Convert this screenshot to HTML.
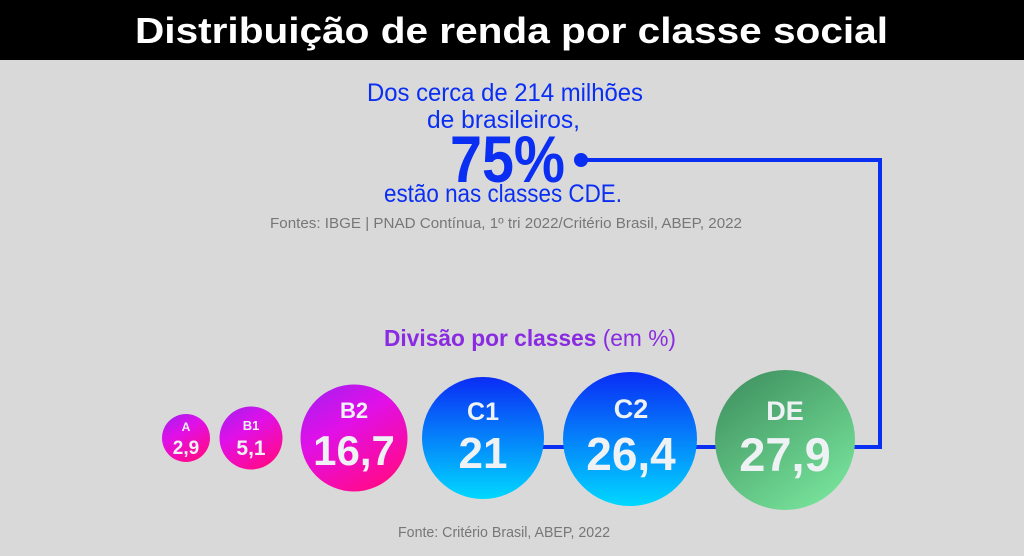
<!DOCTYPE html>
<html><head><meta charset="utf-8"><style>
html,body{margin:0;padding:0;width:1024px;height:556px;overflow:hidden;background:#d9d9d9}
</style></head><body>
<svg width="1024" height="556" xmlns="http://www.w3.org/2000/svg" font-family="Liberation Sans, DejaVu Sans, sans-serif">
<defs>
<linearGradient id="gp" x1="0" y1="0" x2="0.6" y2="1"><stop offset="0" stop-color="#a020f0"/><stop offset="0.45" stop-color="#e010e8"/><stop offset="1" stop-color="#ff0a90"/></linearGradient>
<linearGradient id="gb" x1="0" y1="0" x2="0" y2="1"><stop offset="0" stop-color="#0a2cf5"/><stop offset="1" stop-color="#00d8ff"/></linearGradient>
<linearGradient id="gg" x1="0.1" y1="0" x2="0.8" y2="1"><stop offset="0" stop-color="#3e8f5e"/><stop offset="1" stop-color="#78e59c"/></linearGradient>
</defs>
<rect width="1024" height="60" fill="#000"/>
<text x="135" y="43" fill="#fff" font-size="36" font-weight="bold" textLength="753" lengthAdjust="spacingAndGlyphs">Distribuição de renda por classe social</text>
<g fill="#0a2ef2">
<text x="367" y="101" font-size="25" textLength="276" lengthAdjust="spacingAndGlyphs">Dos cerca de 214 milhões</text>
<text x="427" y="128" font-size="25" textLength="153" lengthAdjust="spacingAndGlyphs">de brasileiros,</text>
<text x="450" y="182" font-size="66" font-weight="bold" textLength="115" lengthAdjust="spacingAndGlyphs">75%</text>
<text x="384" y="202" font-size="25" textLength="238" lengthAdjust="spacingAndGlyphs">estão nas classes CDE.</text>
</g>
<text x="270" y="228" fill="#777" font-size="14.5" textLength="472" lengthAdjust="spacingAndGlyphs">Fontes: IBGE | PNAD Contínua, 1º tri 2022/Critério Brasil, ABEP, 2022</text>
<text x="384" y="346" font-size="23" fill="#8a2be2" textLength="292" lengthAdjust="spacingAndGlyphs"><tspan font-weight="bold">Divisão por classes</tspan> (em %)</text>
<g stroke="#0a2ef2" stroke-width="4" fill="none">
<polyline points="581,160 880,160 880,447 540,447"/>
</g>
<circle cx="581" cy="160" r="7" fill="#0a2ef2"/>
<circle cx="186" cy="438" r="24" fill="url(#gp)"/>
<circle cx="251" cy="438" r="31.5" fill="url(#gp)"/>
<circle cx="354" cy="438" r="53.5" fill="url(#gp)"/>
<circle cx="483" cy="438" r="61" fill="url(#gb)"/>
<circle cx="630" cy="439" r="67" fill="url(#gb)"/>
<circle cx="785" cy="440" r="70" fill="url(#gg)"/>
<g fill="#eef2f5" text-anchor="middle" font-weight="bold">
<text x="186" y="431" font-size="12">A</text>
<text x="186" y="454" font-size="19">2,9</text>
<text x="251" y="430" font-size="13">B1</text>
<text x="251" y="455" font-size="21">5,1</text>
<text x="354" y="418" font-size="22">B2</text>
<text x="354" y="465" font-size="42">16,7</text>
<text x="483" y="420" font-size="25">C1</text>
<text x="483" y="468" font-size="44">21</text>
<text x="631" y="418" font-size="27">C2</text>
<text x="631" y="470" font-size="46">26,4</text>
<text x="785" y="420" font-size="27">DE</text>
<text x="785" y="471" font-size="47">27,9</text>
</g>
<text x="398" y="537" fill="#777" font-size="15" textLength="212" lengthAdjust="spacingAndGlyphs">Fonte: Critério Brasil, ABEP, 2022</text>
</svg>
</body></html>
